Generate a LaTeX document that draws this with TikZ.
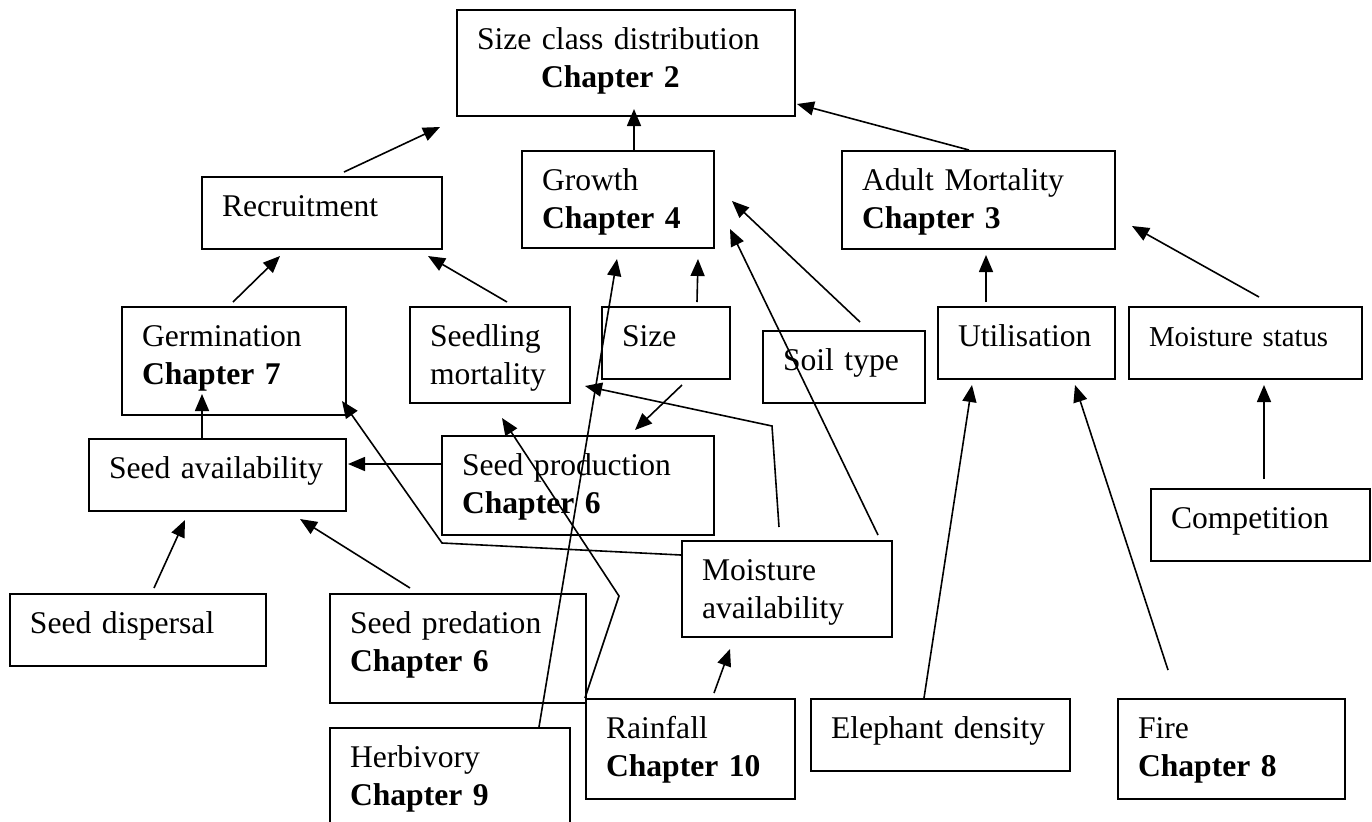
\documentclass[tikz,border=0pt]{standalone}
\usepackage{fontspec}
\setmainfont{Liberation Serif}
\usetikzlibrary{arrows.meta}
\hyphenpenalty=10000

\begin{document}
\begin{tikzpicture}[x=0.5pt,y=-0.5pt,
  box/.style={draw,line width=1pt,anchor=north west,align=left,inner xsep=10pt,inner ysep=0pt,
    text height=19.5pt,font=\fontsize{15.8}{19}\selectfont},
  wd/.style 2 args={text width=#1pt,text depth=#2pt},
  arr/.style={-{Triangle[length=8.5pt,width=7pt]},line width=0.8pt}]
  \useasboundingbox (0,0) rectangle (1372,821);
  \node[box,wd={149}{33.5}] (sizecls) at (456,9) {Size class distribution\\\hspace*{32pt}\textbf{Chapter 2}};
  \node[box,wd={76}{29}] (growth) at (521,150) {Growth\\\textbf{Chapter 4}};
  \node[box,wd={100}{16.5}] (recruit) at (201,176) {Recruitment};
  \node[box,wd={116.5}{29.5}] (adult) at (841,150) {Adult Mortality\\\textbf{Chapter 3}};
  \node[box,wd={92}{34.5}] (germ) at (121,306) {Germination\\\textbf{Chapter 7}};
  \node[box,wd={60}{28.5}] (seedmort) at (409,306) {Seedling\\mortality};
  \node[box,wd={44}{16.5}] (size) at (601,306) {Size};
  \node[box,wd={61}{16.5}] (soil) at (762,330) {Soil type};
  \node[box,wd={68.5}{16.5}] (util) at (937,306) {Utilisation};
  \node[box,wd={96.5}{16.5},font=\fontsize{14.4}{17.3}\selectfont] (moiststat) at (1128,306) {Moisture status};
  \node[box,wd={108.5}{16.5}] (seedavail) at (88,438) {Seed availability};
  \node[box,wd={116}{30}] (seedprod) at (441,435) {Seed production\\\textbf{Chapter 6}};
  \node[box,wd={89.5}{16.5}] (compet) at (1150,488) {Competition};
  \node[box,wd={85}{28.5}] (moistavail) at (681,540) {Moisture\\availability};
  \node[box,wd={108}{16.5}] (dispersal) at (9,593) {Seed dispersal};
  \node[box,wd={108}{35}] (predation) at (329,593) {Seed predation\\\textbf{Chapter 6}};
  \node[box,wd={84.5}{30.5}] (rain) at (585,698) {Rainfall\\\textbf{Chapter 10}};
  \node[box,wd={109.5}{16.5}] (elephant) at (810,698) {Elephant density};
  \node[box,wd={93.5}{30.5}] (fire) at (1117,698) {Fire\\\textbf{Chapter 8}};
  \node[box,wd={100}{32}] (herbiv) at (329,727) {Herbivory\\\textbf{Chapter 9}};
  \draw[arr] ([shift={(143,-4)}]recruit.north west) -- ([shift={(-16,10)}]sizecls.south west);
  \draw[arr] ([shift={(16,0)}]growth.north) -- ([shift={(8,-8)}]sizecls.south);
  \draw[arr] ([shift={(-9.5,0)}]adult.north) -- ([shift={(1,-13)}]sizecls.south east);
  \draw[arr] ([shift={(-1,-4)}]germ.north) -- ([shift={(79,6)}]recruit.south west);
  \draw[arr] ([shift={(17,-4)}]seedmort.north) -- ([shift={(-15,6)}]recruit.south east);
  \draw[arr] ([shift={(31,-4)}]size.north) -- ([shift={(-17,10)}]growth.south east);
  \draw[arr] ([shift={(16,-8)}]soil.north) -- ([shift={(17,1.5)}]growth.east);
  \draw[arr] ([shift={(-15,-5)}]moistavail.north east) -- ([shift={(15,-20)}]growth.south east);
  \draw[arr] ([shift={(-32,0)}]herbiv.north east) -- ([shift={(-1,10)}]growth.south);
  \draw[arr] ([shift={(-40.5,-4)}]util.north) -- ([shift={(7.5,5)}]adult.south);
  \draw[arr] ([shift={(13.5,-9)}]moiststat.north) -- ([shift={(16,26)}]adult.east);
  \draw[arr] ([shift={(-15.5,0)}]seedavail.north) -- ([shift={(-32,-22)}]germ.south);
  \draw[arr] ([shift={(16,5)}]size.south) -- ([shift={(57,-5)}]seedprod.north);
  \draw[arr] ([shift={(0,-21.5)}]seedprod.west) -- ([shift={(1,-11)}]seedavail.east);
  \draw[arr] ([shift={(16,-5)}]dispersal.north) -- ([shift={(-32.5,8)}]seedavail.south);
  \draw[arr] ([shift={(-48,-5)}]predation.north) -- ([shift={(-47,7)}]seedavail.south east);
  \draw[arr] ([shift={(0,15)}]moistavail.north west) -- ([shift={(1,7)}]seedprod.south west) -- ([shift={(-5,-15)}]germ.south east);
  \draw[arr] ([shift={(-8,-13)}]moistavail.north) -- ([shift={(57,-9)}]seedprod.north east) -- ([shift={(14,-18)}]seedmort.south east);
  \draw[arr] ([shift={(23.5,-5)}]rain.north) -- ([shift={(-57,11)}]moistavail.south);
  \draw[arr] (rain.north west) -- ([shift={(32,3)}]predation.north east) -- ([shift={(12,14)}]seedmort.south);
  \draw[arr] ([shift={(-16.5,0)}]elephant.north) -- ([shift={(35,5)}]util.south west);
  \draw[arr] ([shift={(-63.5,-28)}]fire.north) -- ([shift={(-41,5)}]util.south east);
  \draw[arr] ([shift={(3.5,-9)}]compet.north) -- ([shift={(18.5,5)}]moiststat.south);
\end{tikzpicture}
\end{document}
